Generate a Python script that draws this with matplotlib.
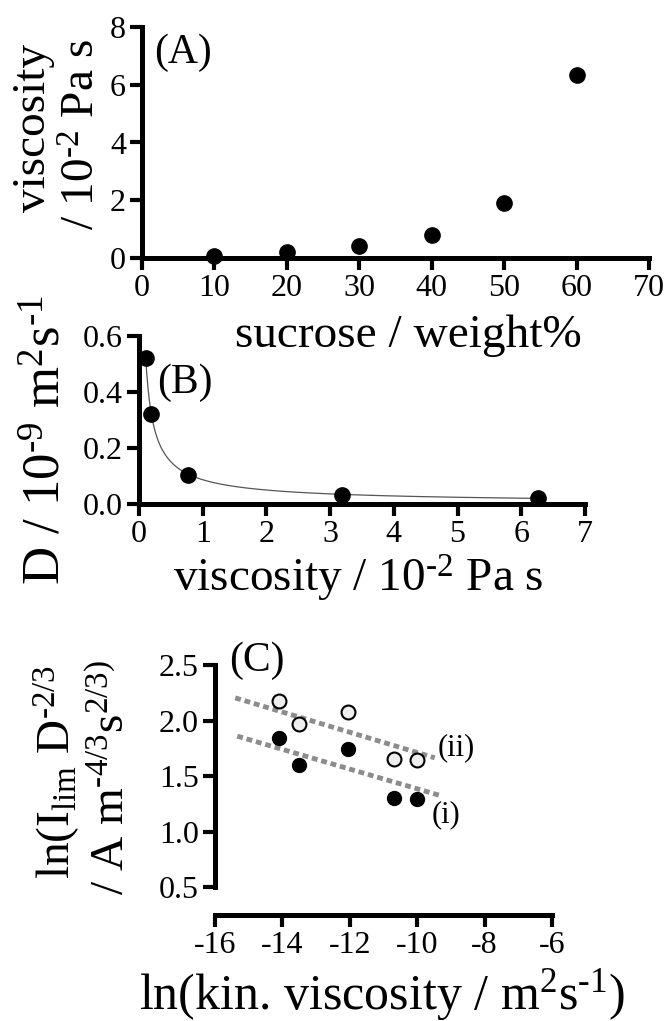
import numpy as np
import matplotlib
matplotlib.use("Agg")
import matplotlib.pyplot as plt

plt.rcParams["font.family"] = ["Liberation Serif", "DejaVu Serif"]
plt.rcParams["mathtext.fontset"] = "custom"
plt.rcParams["mathtext.rm"] = "Liberation Serif"
plt.rcParams["mathtext.it"] = "Liberation Serif"
plt.rcParams["axes.unicode_minus"] = False

# Data
# (A) viscosity vs sucrose
sucrose = [10, 20, 30, 40, 50, 60]
viscosity_a = [0.06, 0.20, 0.43, 0.79, 1.89, 6.34]

# (B) diffusion coefficient vs viscosity
viscosity_b = [0.11, 0.19, 0.77, 3.19, 6.27]
diff_coef = [0.52, 0.323, 0.104, 0.033, 0.021]

# (C) ln(I_lim D^-2/3) vs ln(kinematic viscosity)
ln_kin_visc = [-14.1, -13.5, -12.05, -10.69, -10.02]
series_i = [1.844, 1.598, 1.745, 1.303, 1.294]
series_ii = [2.18, 1.964, 2.075, 1.649, 1.64]

# dashed guide lines in (C): end points
line_i_x = [-15.34, -9.35]
line_i_y = [1.859, 1.327]
line_ii_x = [-15.40, -9.48]
line_ii_y = [2.204, 1.664]

W, H = 670, 1021
fig = plt.figure(figsize=(W / 100, H / 100), dpi=100)

SPINE_W = 3.6
TICK_FS = 23
LABEL_FS = 34


def style_axes(ax):
    for side in ["top", "right"]:
        ax.spines[side].set_visible(False)
    for side in ["left", "bottom"]:
        ax.spines[side].set_linewidth(SPINE_W)
    ax.tick_params(direction="out", length=8.5, width=3.0, pad=3,
                   labelsize=TICK_FS)


def px_axes(left, top, right, bottom):
    return fig.add_axes([left / W, 1 - bottom / H, (right - left) / W,
                         (bottom - top) / H])


# =====================================
# (A)
# =====================================
ax_a = px_axes(142, 27, 649, 258)
style_axes(ax_a)
ax_a.plot(sucrose, viscosity_a, "o", color="black", markersize=11,
          clip_on=False, zorder=5)
ax_a.set_xlim(0, 70)
ax_a.set_ylim(0, 8)
ax_a.set_xticks(range(0, 71, 10))
ax_a.set_yticks(range(0, 9, 2))
ax_a.text(0.024, 0.89, "(A)", transform=ax_a.transAxes, fontsize=30,
          va="center", ha="left")

fig.text(34 / W, 1 - 128 / H, "viscosity", rotation=90, fontsize=LABEL_FS,
         ha="center", va="center")
fig.text(83 / W, 1 - 135 / H, r"/ 10$^{\text{-2}}$ Pa s", rotation=90,
         fontsize=LABEL_FS, ha="center", va="center")
fig.text(408 / W, 1 - 336 / H, "sucrose / weight%", fontsize=LABEL_FS,
         ha="center", va="center")

# =====================================
# (B)
# =====================================
ax_b = px_axes(139, 336, 585, 504)
style_axes(ax_b)

# power-law fit through the points
slope, icpt = np.polyfit(np.log(viscosity_b), np.log(diff_coef), 1)
xfit = np.linspace(0.1, max(viscosity_b), 300)
ax_b.plot(xfit, np.exp(icpt) * xfit ** slope, color="#555555", lw=0.9)
ax_b.plot(viscosity_b, diff_coef, "o", color="black", markersize=11,
          clip_on=False, zorder=5)
ax_b.set_xlim(0, 7)
ax_b.set_ylim(0, 0.6)
ax_b.set_xticks(range(0, 8))
ax_b.set_yticks([0.0, 0.2, 0.4, 0.6])
ax_b.set_yticklabels(["0.0", "0.2", "0.4", "0.6"])
ax_b.text(0.04, 0.72, "(B)", transform=ax_b.transAxes, fontsize=30,
          va="center", ha="left")

fig.text(47 / W, 1 - 440 / H,
         r"D / 10$^{\text{-9}}$ m$^{2}$s$^{\text{-1}}$", rotation=90,
         fontsize=38, ha="center", va="center")
fig.text(358 / W, 1 - 578 / H, r"viscosity / 10$^{\text{-2}}$ Pa s",
         fontsize=LABEL_FS, ha="center", va="center")

# =====================================
# (C)
# =====================================
ax_c = px_axes(215, 665, 552, 887)
style_axes(ax_c)
ax_c.spines["bottom"].set_position(("outward", 20))
ax_c.plot(line_ii_x, line_ii_y, color="#8c8c8c", lw=3.5,
          linestyle=(0, (1.2, 0.8)), clip_on=False)
ax_c.plot(line_i_x, line_i_y, color="#8c8c8c", lw=3.5,
          linestyle=(0, (1.2, 0.8)), clip_on=False)
ax_c.plot(ln_kin_visc, series_ii, "o", markerfacecolor="#eeeeee",
          markeredgecolor="black", markeredgewidth=1.5, markersize=10,
          linestyle="none", clip_on=False, zorder=5)
ax_c.plot(ln_kin_visc, series_i, "o", color="black", markersize=10,
          linestyle="none", clip_on=False, zorder=5)
ax_c.set_xlim(-16, -6)
ax_c.set_ylim(0.5, 2.5)
ax_c.set_xticks(range(-16, -5, 2))
ax_c.set_yticks([0.5, 1.0, 1.5, 2.0, 2.5])
ax_c.set_yticklabels(["0.5", "1.0", "1.5", "2.0", "2.5"])
ax_c.text(0.042, 1.02, "(C)", transform=ax_c.transAxes, fontsize=30,
          va="center", ha="left")
ax_c.text(-8.84, 1.754, "(ii)", fontsize=22, ha="center", va="center")
ax_c.text(-9.16, 1.153, "(i)", fontsize=22, ha="center", va="center")

fig.text(57 / W, 1 - 772 / H, r"ln(I$_{\rm lim}$ D$^{\text{-2/3}}$",
         rotation=90, fontsize=LABEL_FS, ha="center", va="center")
fig.text(112 / W, 1 - 778 / H, r"/ A m$^{\text{-4/3}}$s$^{2/3)}$",
         rotation=90, fontsize=LABEL_FS, ha="center", va="center")
fig.text(382 / W, 1 - 995 / H,
         r"ln(kin. viscosity / m$^{2}$s$^{\text{-1}}$)",
         fontsize=36, ha="center", va="center")

fig.savefig("out.png", dpi=100)
